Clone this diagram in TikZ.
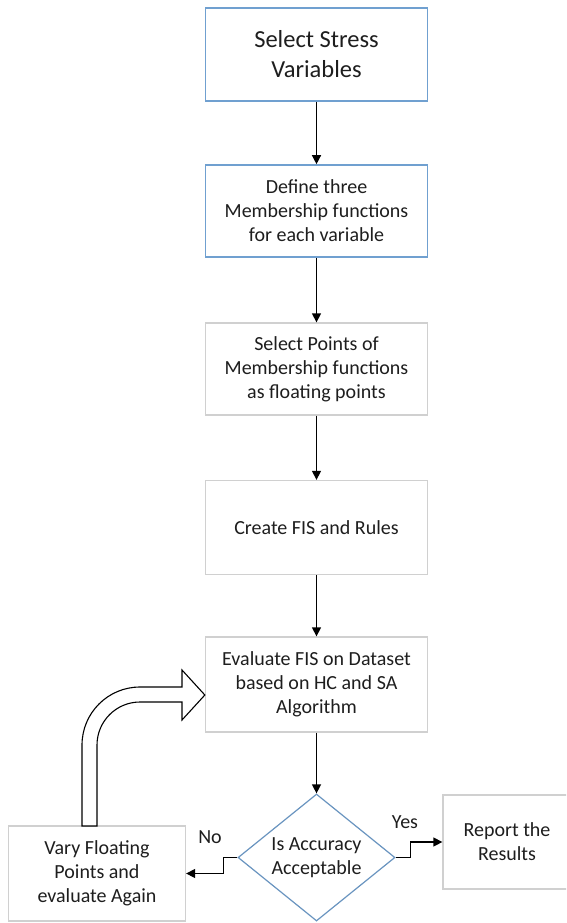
\documentclass[tikz,border=0pt]{standalone}
\usepackage{fontspec}
\setmainfont{Carlito}
\usetikzlibrary{arrows.meta,shapes.geometric}
\definecolor{bluebd}{RGB}{112,160,208}
\definecolor{graybd}{RGB}{208,208,208}
\definecolor{diabd}{RGB}{105,148,192}
\definecolor{txt}{RGB}{30,30,30}
\begin{document}
\begin{tikzpicture}[x=1pt,y=-1pt,
  box/.style={draw=graybd, line width=1.3pt, fill=white, minimum width=222pt,
    minimum height=93pt, align=center, inner sep=0pt, text=txt,
    font=\fontsize{20}{24}\selectfont},
  bluebox/.style={box, draw=bluebd, line width=1.6pt},
  conn/.style={draw=black, line width=1.3pt, -{Triangle[length=9pt,width=9pt]}},
  lbl/.style={text=txt, font=\fontsize{20}{24}\selectfont, inner sep=0pt}]
\useasboundingbox (0,0) rectangle (566,923);
\clip (0,0) rectangle (566,923);
\fill[white] (0,0) rectangle (566,923);

\node[bluebox, font=\fontsize{24.5}{30}\selectfont] (b1) at (316.5,54.5) {Select Stress\\Variables};
\node[bluebox, minimum height=92pt] (b2) at (316.5,211) {Define three\\Membership functions\\for each variable};
\node[box, minimum height=92pt] (b3) at (316.5,369) {Select Points of\\Membership functions\\as floating points};
\node[box, minimum height=94pt] (b4) at (316.5,527.5) {Create FIS and Rules};
\node[box, minimum height=95pt] (b5) at (316.5,684.5) {Evaluate FIS on Dataset\\based on HC and SA\\Algorithm};
\node[diamond, draw=diabd, line width=1.2pt, fill=white, aspect=1.24, inner sep=0pt,
  minimum width=157pt, minimum height=127pt, align=center, text=txt,
  font=\fontsize{20}{24}\selectfont] (dia) at (316.5,857.5) {Is Accuracy\\Acceptable};
\node[box, minimum width=177pt, minimum height=95pt] (vary) at (97,873.5) {Vary Floating\\Points and\\evaluate Again};
\node[box, minimum width=128pt, minimum height=94pt] (rep) at (507,842) {Report the\\Results};

\draw[conn] (b1) -- (b2);
\draw[conn] (b2) -- (b3);
\draw[conn] (b3) -- (b4);
\draw[conn] (b4) -- (b5);
\draw[conn] (b5) -- (dia);
\draw[conn] (dia.west) -- ++(-14,0) |- (vary.east);
\draw[conn] (dia.east) -- ++(15,0) |- (rep.west);

\node[lbl] (no) at (210,837) {No};
\node[lbl] (yes) at (405,822) {Yes};

% hollow bent block arrow from vary box up to evaluate box
\draw[black, line width=1.1pt, fill=white, line join=miter]
  (82,826) -- (82,745) arc[start angle=180, end angle=270, radius=58]
  -- (182,687) -- (182,670) -- (b5.west |- 0,695) -- (182,720) -- (182,702)
  -- (140,702) arc[start angle=270, end angle=180, radius=43]
  -- (97,826) -- cycle;
\end{tikzpicture}
\end{document}
